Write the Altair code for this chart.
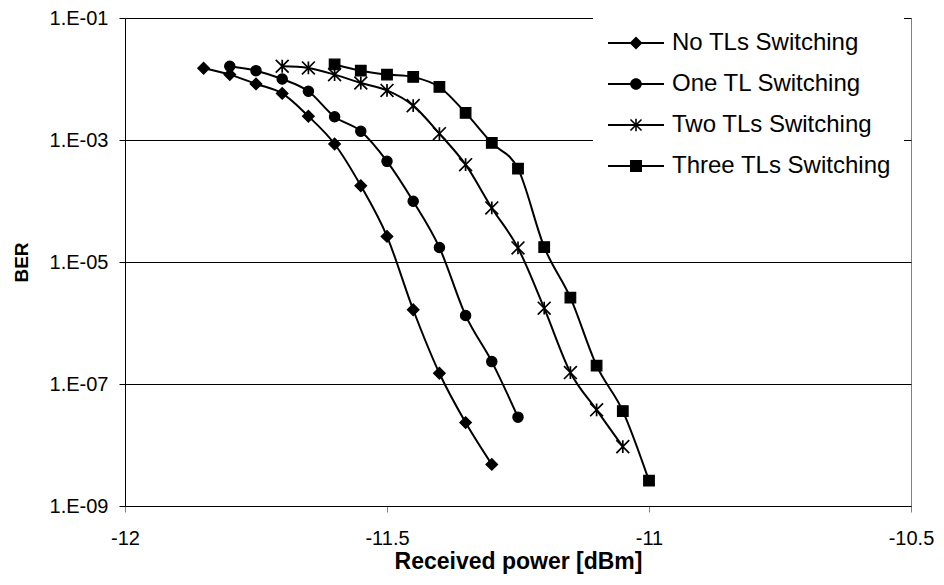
import altair as alt
import pandas as pd

series_names = ["No TLs Switching", "One TL Switching", "Two TLs Switching", "Three TLs Switching"]

no_x = [-11.85, -11.8, -11.75, -11.7, -11.65, -11.6, -11.55, -11.5, -11.45, -11.4, -11.35, -11.3]
no_ber = [1.5e-2, 1.18e-2, 8.3e-3, 5.8e-3, 2.45e-3, 8.6e-4, 1.78e-4, 2.63e-5, 1.65e-6, 1.5e-7, 2.33e-8, 4.8e-9]

one_x = [-11.8, -11.75, -11.7, -11.65, -11.6, -11.55, -11.5, -11.45, -11.4, -11.35, -11.3, -11.25]
one_ber = [1.62e-2, 1.37e-2, 1.0e-2, 6.3e-3, 2.4e-3, 1.39e-3, 4.47e-4, 9.9e-5, 1.73e-5, 1.33e-6, 2.33e-7, 2.86e-8]

two_x = [-11.7, -11.65, -11.6, -11.55, -11.5, -11.45, -11.4, -11.35, -11.3, -11.25, -11.2, -11.15, -11.1, -11.05]
two_ber = [1.62e-2, 1.52e-2, 1.18e-2, 8.6e-3, 6.5e-3, 3.66e-3, 1.27e-3, 3.94e-4, 7.7e-5, 1.7e-5, 1.75e-6, 1.54e-7, 3.77e-8, 9.4e-9]

three_x = [-11.6, -11.55, -11.5, -11.45, -11.4, -11.35, -11.3, -11.25, -11.2, -11.15, -11.1, -11.05, -11.0]
three_ber = [1.73e-2, 1.37e-2, 1.18e-2, 1.08e-2, 7.4e-3, 2.78e-3, 8.95e-4, 3.39e-4, 1.76e-5, 2.6e-6, 2.0e-7, 3.6e-8, 2.6e-9]

x_ticks = [-12, -11.5, -11, -10.5]
y_ticks = [1e-1, 1e-3, 1e-5, 1e-7, 1e-9]

rows = []
for name, xs, ys in zip(series_names, [no_x, one_x, two_x, three_x], [no_ber, one_ber, two_ber, three_ber]):
    for i, (xv, yv) in enumerate(zip(xs, ys)):
        rows.append({"series": name, "power": xv, "ber": yv, "idx": i})
df = pd.DataFrame(rows)

ASTER = "M-1,-1L1,1M-1,1L1,-1M0,-1L0,1"
marker_shapes = ["diamond", "circle", ASTER, "square"]
marker_sizes = [135, 106, 165, 112]
marker_strokes = [1.2, 1.2, 1.7, 1.2]

# legend glyphs: a line segment with the marker in its middle, drawn as filled outlines
LINE = "M-1,-0.09L4.6,-0.09L4.6,0.09L-1,0.09Z"
legend_paths = [
    LINE + "M1.15,0L1.8,-0.65L2.45,0L1.8,0.65Z",
    LINE + "M1.22,0A0.58,0.58,0,1,1,2.38,0A0.58,0.58,0,1,1,1.22,0Z",
    LINE
    + "M1.307,-0.607L2.407,0.493L2.293,0.607L1.193,-0.493Z"
    + "M1.307,0.607L1.193,0.493L2.293,-0.607L2.407,-0.493Z"
    + "M1.72,-0.62L1.88,-0.62L1.88,0.62L1.72,0.62Z",
    LINE + "M1.2,-0.6L2.4,-0.6L2.4,0.6L1.2,0.6Z",
]

x_enc = alt.X(
    "power:Q",
    scale=alt.Scale(domain=[-12, -10.5], nice=False, zero=False),
    axis=alt.Axis(
        values=x_ticks,
        labelExpr="'' + datum.value",
        labelFlush=False,
        title="Received power [dBm]",
        grid=False,
        domainColor="black",
        tickColor="#808080",
        tickSize=6,
        labelFontSize=20,
        labelColor="black",
        labelPadding=16,
        titleFontSize=23,
        titleFontWeight="bold",
        titleColor="black",
        titlePadding=2,
    ),
)
y_enc = alt.Y(
    "ber:Q",
    scale=alt.Scale(type="log", domain=[1e-9, 1e-1], nice=False),
    axis=alt.Axis(
        values=y_ticks,
        labelExpr="'1.E-0' + round(-log(datum.value) / LN10)",
        labelFlush=False,
        title="BER",
        grid=True,
        gridColor="black",
        gridWidth=1,
        domainColor="black",
        tickColor="black",
        tickSize=6,
        labelFontSize=20,
        labelColor="black",
        labelPadding=11,
        titleFontSize=19,
        titleFontWeight="bold",
        titleColor="black",
        titlePadding=18,
    ),
)

base = alt.Chart(df)

lines = base.mark_line(color="black", strokeWidth=2, interpolate="cardinal", tension=0).encode(
    x=x_enc, y=y_enc, detail="series:N", order="idx:Q"
)

point_layers = []
for name, shp, sz, sw in zip(series_names, marker_shapes, marker_sizes, marker_strokes):
    point_layers.append(
        base.transform_filter(alt.datum.series == name)
        .mark_point(filled=True, color="black", stroke="black", strokeWidth=sw, opacity=1, shape=shp, size=sz)
        .encode(x=x_enc, y=y_enc)
    )

legend_layer = base.transform_filter("false").mark_point(
    filled=True, color="black", opacity=1
).encode(
    x=x_enc,
    y=y_enc,
    shape=alt.Shape(
        "series:N",
        scale=alt.Scale(domain=series_names, range=legend_paths),
        legend=alt.Legend(
            title=None,
            orient="none",
            legendX=468,
            legendY=0,
            padding=13,
            fillColor="white",
            labelFontSize=24,
            labelColor="black",
            labelLimit=400,
            labelOffset=42,
            rowPadding=17,
            symbolSize=400,
            symbolFillColor="black",
            symbolOpacity=1,
        ),
    ),
)

chart = (
    alt.layer(lines, *point_layers, legend_layer)
    .properties(
        width=786,
        height=488,
        autosize=alt.AutoSizeParams(type="none"),
        padding={"left": 125, "top": 18, "right": 33, "bottom": 79},
        background="white",
    )
    .configure(font="Liberation Sans")
    .configure_view(stroke="#808080", strokeWidth=1)
)

chart.save("out.html", embed_options={"renderer": "svg", "actions": False})
